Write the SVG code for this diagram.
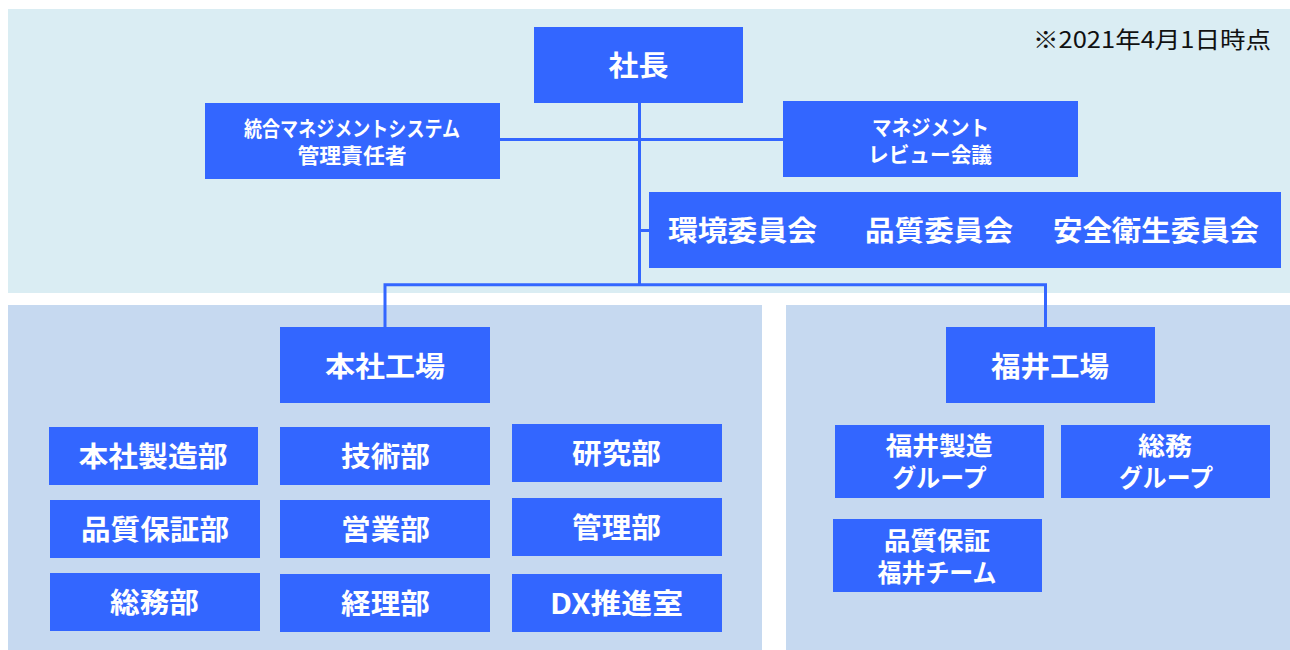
<svg xmlns="http://www.w3.org/2000/svg" width="1290" height="650" viewBox="0 0 1290 650">
<style>
.bg{fill:#ffffff}
.p1{fill:#DAEDF3}
.p2{fill:#C6D9F0}
.box{fill:#3366FF}
.t{font-family:"Noto Sans CJK JP","Noto Sans",sans-serif;font-weight:bold;fill:#ffffff;text-anchor:middle}
.t28{font-size:28px}
.t25{font-size:25px}
.t21{font-size:21px}
.note{font-family:"Noto Sans CJK JP","Noto Sans",sans-serif;font-size:23px;fill:#111111}
.ln{stroke:#3366FF;stroke-width:3;fill:none}
</style>
<rect class="bg" x="0" y="0" width="1290" height="650"/>
<g id="panels">
<rect class="p1" x="8" y="9" width="1282" height="284"/>
<rect class="p2" x="8" y="305" width="754" height="345"/>
<rect class="p2" x="786" y="305" width="504" height="345"/>
</g>
<text class="note" x="1033" y="48" textLength="238" lengthAdjust="spacingAndGlyphs">※2021年4月1日時点</text>
<g id="connectors">
<path class="ln" d="M639.5,103 V284.7"/>
<path class="ln" d="M500,139.5 H783"/>
<path class="ln" d="M639.5,230.5 H649"/>
<path class="ln" d="M385,327 V284.7 H1045.5 V327"/>
</g>
<g id="president">
<rect class="box" x="534" y="27" width="209" height="76"/>
<text class="t t28" x="638.5" y="76" textLength="60" lengthAdjust="spacingAndGlyphs">社長</text>
</g>
<g id="ims-manager">
<rect class="box" x="205" y="103" width="295" height="76"/>
<text class="t t21"><tspan x="352" y="136" textLength="216" lengthAdjust="spacingAndGlyphs">統合マネジメントシステム</tspan><tspan x="352" y="162.5" textLength="109" lengthAdjust="spacingAndGlyphs">管理責任者</tspan></text>
</g>
<g id="management-review">
<rect class="box" x="783" y="101" width="295" height="76"/>
<text class="t t21"><tspan x="930.5" y="134.5" textLength="117" lengthAdjust="spacingAndGlyphs">マネジメント</tspan><tspan x="930" y="161.5" textLength="124" lengthAdjust="spacingAndGlyphs">レビュー会議</tspan></text>
</g>
<g id="committees">
<rect class="box" x="649" y="192" width="632" height="76"/>
<text class="t t28" x="742.5" y="241" textLength="149" lengthAdjust="spacingAndGlyphs">環境委員会</text>
<text class="t t28" x="939" y="241" textLength="148" lengthAdjust="spacingAndGlyphs">品質委員会</text>
<text class="t t28" x="1156" y="241" textLength="206" lengthAdjust="spacingAndGlyphs">安全衛生委員会</text>
</g>
<g id="honsha-plant">
<rect class="box" x="280" y="327" width="210" height="76"/>
<text class="t t28" x="385" y="376.5" textLength="120" lengthAdjust="spacingAndGlyphs">本社工場</text>
</g>
<g id="fukui-plant">
<rect class="box" x="946" y="327" width="209" height="76"/>
<text class="t t28" x="1050" y="376.5" textLength="118" lengthAdjust="spacingAndGlyphs">福井工場</text>
</g>
<g id="honsha-mfg">
<rect class="box" x="49" y="427" width="209" height="58"/>
<text class="t t28" x="153" y="466.5" textLength="149" lengthAdjust="spacingAndGlyphs">本社製造部</text>
</g>
<g id="engineering">
<rect class="box" x="280" y="427" width="210" height="58"/>
<text class="t t28" x="385.5" y="466.5" textLength="89" lengthAdjust="spacingAndGlyphs">技術部</text>
</g>
<g id="research">
<rect class="box" x="512" y="424" width="210" height="58"/>
<text class="t t28" x="616.5" y="463.5" textLength="89" lengthAdjust="spacingAndGlyphs">研究部</text>
</g>
<g id="qa">
<rect class="box" x="50" y="500" width="210" height="58"/>
<text class="t t28" x="155" y="539.5" textLength="148" lengthAdjust="spacingAndGlyphs">品質保証部</text>
</g>
<g id="sales">
<rect class="box" x="280" y="500" width="210" height="58"/>
<text class="t t28" x="385.5" y="539.5" textLength="89" lengthAdjust="spacingAndGlyphs">営業部</text>
</g>
<g id="admin">
<rect class="box" x="512" y="498" width="210" height="58"/>
<text class="t t28" x="616.5" y="537.5" textLength="89" lengthAdjust="spacingAndGlyphs">管理部</text>
</g>
<g id="general-affairs">
<rect class="box" x="50" y="573" width="210" height="58"/>
<text class="t t28" x="154.5" y="612.5" textLength="89" lengthAdjust="spacingAndGlyphs">総務部</text>
</g>
<g id="accounting">
<rect class="box" x="280" y="574" width="210" height="58"/>
<text class="t t28" x="385.5" y="613.5" textLength="89" lengthAdjust="spacingAndGlyphs">経理部</text>
</g>
<g id="dx">
<rect class="box" x="512" y="574" width="210" height="58"/>
<text class="t t28" x="616.5" y="613.5" textLength="133" lengthAdjust="spacingAndGlyphs">DX推進室</text>
</g>
<g id="fukui-mfg">
<rect class="box" x="835" y="425" width="209" height="73"/>
<text class="t t25"><tspan x="939" y="455" textLength="107" lengthAdjust="spacingAndGlyphs">福井製造</tspan><tspan x="939.5" y="487" textLength="94" lengthAdjust="spacingAndGlyphs">グループ</tspan></text>
</g>
<g id="fukui-ga">
<rect class="box" x="1061" y="425" width="209" height="73"/>
<text class="t t25"><tspan x="1165" y="455" textLength="54" lengthAdjust="spacingAndGlyphs">総務</tspan><tspan x="1166" y="487" textLength="94" lengthAdjust="spacingAndGlyphs">グループ</tspan></text>
</g>
<g id="fukui-qa">
<rect class="box" x="833" y="519" width="209" height="73"/>
<text class="t t25"><tspan x="937" y="550" textLength="106" lengthAdjust="spacingAndGlyphs">品質保証</tspan><tspan x="937" y="582" textLength="119" lengthAdjust="spacingAndGlyphs">福井チーム</tspan></text>
</g>
</svg>
